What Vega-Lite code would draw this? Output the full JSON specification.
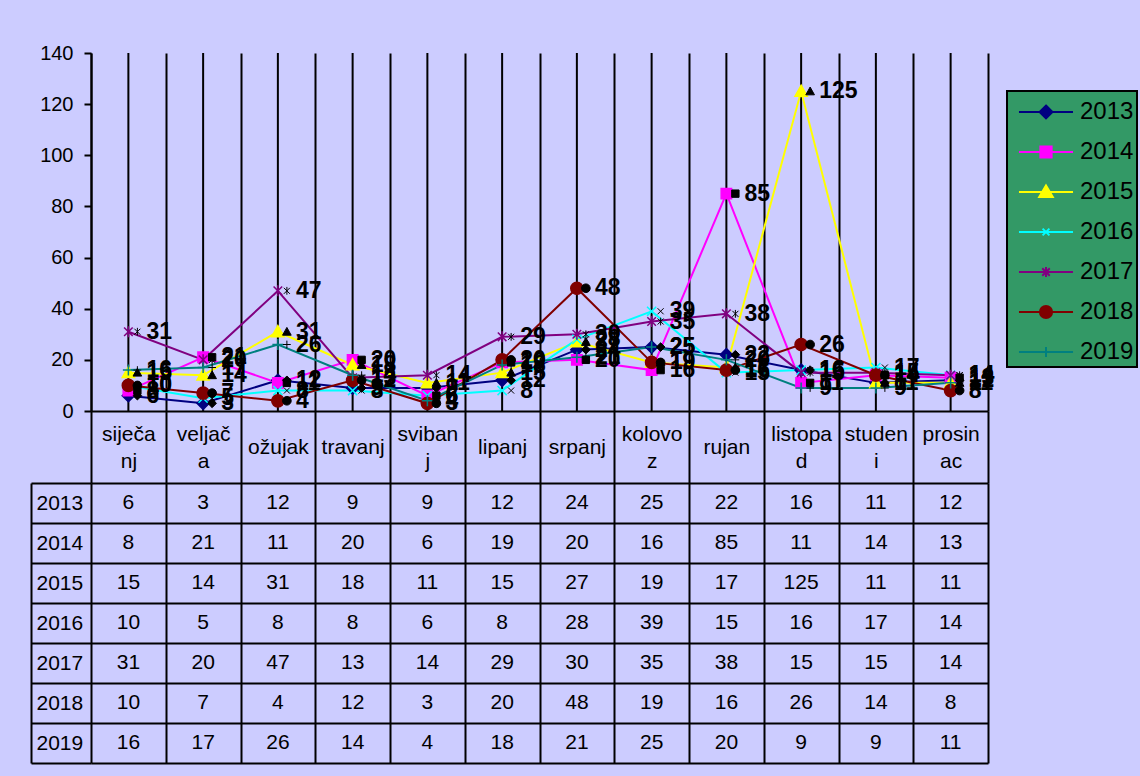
{
  "$schema": "https://vega.github.io/schema/vega-lite/v6.json",
  "background": "#CCCCFF",
  "padding": {"left": 30, "top": 43, "right": 2, "bottom": 13},
  "config": {
    "font": "Liberation Sans",
    "view": {"stroke": null},
    "range": {"category": ["#000080", "#FF00FF", "#FFFF00", "#00FFFF", "#800080", "#800000", "#008080"]},
    "legend": {
      "fillColor": "#339966", "strokeColor": "black", "strokeWidth": 2, "padding": 3,
      "symbolSize": 1156, "symbolOffset": 18, "labelOffset": 16, "rowPadding": 10,
      "labelFontSize": 24, "labelColor": "black", "symbolStrokeWidth": 2, "direction": "vertical"
    }
  },
  "datasets": {
    "counts": [
      {"year": "2013", "month": "siječanj", "value": 6}, {"year": "2013", "month": "veljača", "value": 3}, {"year": "2013", "month": "ožujak", "value": 12}, {"year": "2013", "month": "travanj", "value": 9}, {"year": "2013", "month": "svibanj", "value": 9}, {"year": "2013", "month": "lipanj", "value": 12}, {"year": "2013", "month": "srpanj", "value": 24}, {"year": "2013", "month": "kolovoz", "value": 25}, {"year": "2013", "month": "rujan", "value": 22}, {"year": "2013", "month": "listopad", "value": 16}, {"year": "2013", "month": "studeni", "value": 11}, {"year": "2013", "month": "prosinac", "value": 12},
      {"year": "2014", "month": "siječanj", "value": 8}, {"year": "2014", "month": "veljača", "value": 21}, {"year": "2014", "month": "ožujak", "value": 11}, {"year": "2014", "month": "travanj", "value": 20}, {"year": "2014", "month": "svibanj", "value": 6}, {"year": "2014", "month": "lipanj", "value": 19}, {"year": "2014", "month": "srpanj", "value": 20}, {"year": "2014", "month": "kolovoz", "value": 16}, {"year": "2014", "month": "rujan", "value": 85}, {"year": "2014", "month": "listopad", "value": 11}, {"year": "2014", "month": "studeni", "value": 14}, {"year": "2014", "month": "prosinac", "value": 13},
      {"year": "2015", "month": "siječanj", "value": 15}, {"year": "2015", "month": "veljača", "value": 14}, {"year": "2015", "month": "ožujak", "value": 31}, {"year": "2015", "month": "travanj", "value": 18}, {"year": "2015", "month": "svibanj", "value": 11}, {"year": "2015", "month": "lipanj", "value": 15}, {"year": "2015", "month": "srpanj", "value": 27}, {"year": "2015", "month": "kolovoz", "value": 19}, {"year": "2015", "month": "rujan", "value": 17}, {"year": "2015", "month": "listopad", "value": 125}, {"year": "2015", "month": "studeni", "value": 11}, {"year": "2015", "month": "prosinac", "value": 11},
      {"year": "2016", "month": "siječanj", "value": 10}, {"year": "2016", "month": "veljača", "value": 5}, {"year": "2016", "month": "ožujak", "value": 8}, {"year": "2016", "month": "travanj", "value": 8}, {"year": "2016", "month": "svibanj", "value": 6}, {"year": "2016", "month": "lipanj", "value": 8}, {"year": "2016", "month": "srpanj", "value": 28}, {"year": "2016", "month": "kolovoz", "value": 39}, {"year": "2016", "month": "rujan", "value": 15}, {"year": "2016", "month": "listopad", "value": 16}, {"year": "2016", "month": "studeni", "value": 17}, {"year": "2016", "month": "prosinac", "value": 14},
      {"year": "2017", "month": "siječanj", "value": 31}, {"year": "2017", "month": "veljača", "value": 20}, {"year": "2017", "month": "ožujak", "value": 47}, {"year": "2017", "month": "travanj", "value": 13}, {"year": "2017", "month": "svibanj", "value": 14}, {"year": "2017", "month": "lipanj", "value": 29}, {"year": "2017", "month": "srpanj", "value": 30}, {"year": "2017", "month": "kolovoz", "value": 35}, {"year": "2017", "month": "rujan", "value": 38}, {"year": "2017", "month": "listopad", "value": 15}, {"year": "2017", "month": "studeni", "value": 15}, {"year": "2017", "month": "prosinac", "value": 14},
      {"year": "2018", "month": "siječanj", "value": 10}, {"year": "2018", "month": "veljača", "value": 7}, {"year": "2018", "month": "ožujak", "value": 4}, {"year": "2018", "month": "travanj", "value": 12}, {"year": "2018", "month": "svibanj", "value": 3}, {"year": "2018", "month": "lipanj", "value": 20}, {"year": "2018", "month": "srpanj", "value": 48}, {"year": "2018", "month": "kolovoz", "value": 19}, {"year": "2018", "month": "rujan", "value": 16}, {"year": "2018", "month": "listopad", "value": 26}, {"year": "2018", "month": "studeni", "value": 14}, {"year": "2018", "month": "prosinac", "value": 8},
      {"year": "2019", "month": "siječanj", "value": 16}, {"year": "2019", "month": "veljača", "value": 17}, {"year": "2019", "month": "ožujak", "value": 26}, {"year": "2019", "month": "travanj", "value": 14}, {"year": "2019", "month": "svibanj", "value": 4}, {"year": "2019", "month": "lipanj", "value": 18}, {"year": "2019", "month": "srpanj", "value": 21}, {"year": "2019", "month": "kolovoz", "value": 25}, {"year": "2019", "month": "rujan", "value": 20}, {"year": "2019", "month": "listopad", "value": 9}, {"year": "2019", "month": "studeni", "value": 9}, {"year": "2019", "month": "prosinac", "value": 11}
    ]
  },
  "bounds": "flush",
  "spacing": 72,
  "vconcat": [
    {
      "width": 897,
      "height": 358,
      "data": {"name": "counts"},
      "encoding": {
        "x": {
          "field": "month", "type": "nominal",
          "scale": {"type": "band", "domain": ["siječanj", "veljača", "ožujak", "travanj", "svibanj", "lipanj", "srpanj", "kolovoz", "rujan", "listopad", "studeni", "prosinac"], "paddingInner": 0, "paddingOuter": 0},
          "axis": {
            "orient": "bottom", "title": null,
            "domain": true, "domainColor": "black", "domainWidth": 2,
            "ticks": true, "tickBand": "extent", "tickSize": 72, "tickColor": "black", "tickWidth": 2,
            "grid": true, "gridColor": "black", "gridWidth": 2, "gridOpacity": 1,
            "labelFontSize": 21, "labelColor": "black", "labelBaseline": "middle",
            "labelPadding": {"condition": {"test": "indexof(['ožujak','travanj','lipanj','srpanj','rujan'], datum.value) >= 0", "value": -36}, "value": -49},
            "labelAlign": "center", "labelAngle": 0, "labelLineHeight": 27, "labelOverlap": false,
            "labelExpr": "datum.label=='siječanj'?['siječa','nj']:datum.label=='veljača'?['veljač','a']:datum.label=='svibanj'?['sviban','j']:datum.label=='kolovoz'?['kolovo','z']:datum.label=='listopad'?['listopa','d']:datum.label=='studeni'?['studen','i']:datum.label=='prosinac'?['prosin','ac']:datum.label"
          }
        }
      },
      "layer": [
        {
          "transform": [{"filter": "datum.year == '2013'"}],
          "mark": {"type": "rule", "color": "black", "strokeWidth": 2},
          "encoding": {}
        },
        {
          "mark": {"type": "line", "strokeWidth": 2},
          "encoding": {
            "y": {
              "field": "value", "type": "quantitative", "scale": {"domain": [0, 140]},
              "axis": {"title": null, "values": [0, 20, 40, 60, 80, 100, 120, 140], "grid": false,
                "domainColor": "black", "domainWidth": 2, "tickColor": "black", "tickWidth": 2, "tickSize": 7,
                "labelFontSize": 20, "labelColor": "black", "labelPadding": 11}
            },
            "color": {"field": "year", "type": "nominal", "legend": null}
          }
        },
        {
          "mark": {"type": "point", "filled": true, "opacity": 1, "size": 150, "strokeWidth": 1.5},
          "encoding": {
            "y": {"field": "value", "type": "quantitative"},
            "fill": {"field": "year", "type": "nominal", "legend": null},
            "stroke": {"field": "year", "type": "nominal", "legend": null},
            "shape": {"field": "year", "type": "nominal", "legend": null,
              "scale": {"range": ["M0,-1L1,0L0,1L-1,0Z", "M-0.85,-0.85L0.85,-0.85L0.85,0.85L-0.85,0.85Z", "M0,-1L1,0.8L-1,0.8Z", "M-0.75,-0.75L0.75,0.75M-0.75,0.75L0.75,-0.75", "M-0.7,-0.7L0.7,0.7M-0.7,0.7L0.7,-0.7M0,-0.9L0,0.9", "circle", "M-0.9,0L0.9,0M0,-0.9L0,0.9"]}}
          }
        },
        {
          "mark": {"type": "point", "filled": true, "opacity": 1, "size": 75, "fill": "black", "stroke": "black", "strokeWidth": 1, "xOffset": 9},
          "encoding": {
            "y": {"field": "value", "type": "quantitative"},
            "shape": {"field": "year", "type": "nominal", "legend": null,
              "scale": {"range": ["M0,-1L1,0L0,1L-1,0Z", "M-0.85,-0.85L0.85,-0.85L0.85,0.85L-0.85,0.85Z", "M0,-1L1,0.8L-1,0.8Z", "M-0.7,-0.7L0.7,0.7M-0.7,0.7L0.7,-0.7", "M-0.7,-0.7L0.7,0.7M-0.7,0.7L0.7,-0.7M0,-0.9L0,0.9", "circle", "M-0.9,0L0.9,0M0,-0.9L0,0.9"]}}
          }
        },
        {
          "mark": {"type": "text", "dx": 18, "align": "left", "baseline": "middle", "fontSize": 23, "fontWeight": "bold", "color": "black"},
          "encoding": {
            "y": {"field": "value", "type": "quantitative"},
            "text": {"field": "value", "type": "quantitative"}
          }
        },
        {
          "transform": [{"filter": "false"}],
          "mark": {"type": "point", "filled": true, "opacity": 1},
          "encoding": {
            "y": {"field": "value", "type": "quantitative"},
            "shape": {"field": "year", "type": "nominal",
              "scale": {"domain": ["2013", "2014", "2015", "2016", "2017", "2018", "2019"],
                "range": ["M-1.59,0L1.59,0M0,-0.38L0.38,0L0,0.38L-0.38,0Z", "M-1.59,0L1.59,0M-0.33,-0.33L0.33,-0.33L0.33,0.33L-0.33,0.33Z", "M-1.59,0L1.59,0M0,-0.38L0.4,0.3L-0.4,0.3Z", "M-1.59,0L1.59,0M-0.2,-0.2L0.2,0.2M-0.2,0.2L0.2,-0.2", "M-1.59,0L1.59,0M-0.22,-0.22L0.22,0.22M-0.22,0.22L0.22,-0.22M0,-0.3L0,0.3", "M-1.59,0L1.59,0M-0.36,0A0.36,0.36,0,1,0,0.36,0A0.36,0.36,0,1,0,-0.36,0Z", "M-1.59,0L1.59,0M0,-0.3L0,0.3"]},
              "legend": {"title": null, "orient": "none", "legendX": 916, "legendY": 38}},
            "fill": {"field": "year", "type": "nominal", "scale": {"domain": ["2013", "2014", "2015", "2016", "2017", "2018", "2019"]},
              "legend": {"title": null, "orient": "none", "legendX": 916, "legendY": 38}},
            "stroke": {"field": "year", "type": "nominal", "scale": {"domain": ["2013", "2014", "2015", "2016", "2017", "2018", "2019"]},
              "legend": {"title": null, "orient": "none", "legendX": 916, "legendY": 38}}
          }
        }
      ],
      "resolve": {"scale": {"shape": "independent", "fill": "independent", "stroke": "independent"}}
    },
    {
      "width": 897,
      "height": 280,
      "data": {"name": "counts"},
      "mark": {"type": "text", "fontSize": 21, "color": "black", "baseline": "middle"},
      "encoding": {
        "x": {
          "field": "month", "type": "nominal",
          "scale": {"type": "band", "domain": ["siječanj", "veljača", "ožujak", "travanj", "svibanj", "lipanj", "srpanj", "kolovoz", "rujan", "listopad", "studeni", "prosinac"], "paddingInner": 0, "paddingOuter": 0},
          "axis": {"orient": "top", "title": null, "labels": false, "ticks": false, "domain": false, "grid": true, "tickBand": "extent", "gridColor": "black", "gridWidth": 2, "gridOpacity": 1}
        },
        "y": {
          "field": "year", "type": "nominal",
          "scale": {"type": "band", "paddingInner": 0, "paddingOuter": 0},
          "axis": {"title": null, "offset": 60, "domain": true, "domainColor": "black", "domainWidth": 2,
            "ticks": true, "tickBand": "extent", "tickSize": -60, "tickColor": "black", "tickWidth": 2,
            "grid": true, "gridColor": "black", "gridWidth": 2, "gridOpacity": 1,
            "labelAlign": "left", "labelPadding": 55, "labelFontSize": 21, "labelColor": "black", "labelBaseline": "middle"}
        },
        "text": {"field": "value", "type": "quantitative"}
      }
    }
  ]
}
